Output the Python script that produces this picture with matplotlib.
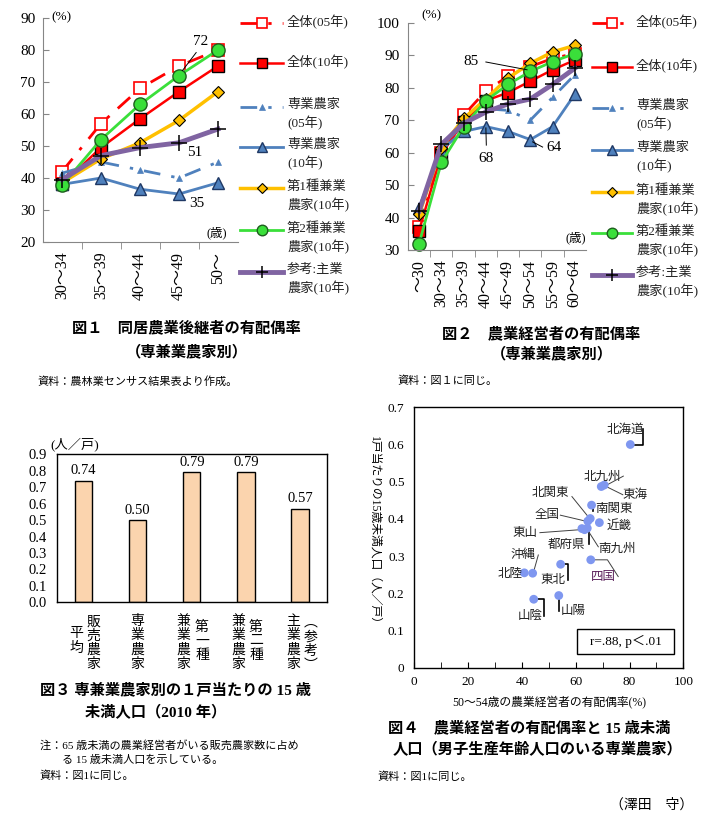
import matplotlib
matplotlib.use('Agg')
import matplotlib.pyplot as plt
from matplotlib.patches import Rectangle

plt.rcParams['font.family'] = ['Liberation Serif', 'Noto Sans CJK JP']
plt.rcParams['axes.unicode_minus'] = False

# ---------------- data ----------------
series_labels = ['全体(05年)', '全体(10年)', '専業農家\n(05年)', '専業農家\n(10年)',
                 '第1種兼業\n農家(10年)', '第2種兼業\n農家(10年)', '参考:主業\n農家(10年)']

f1_cats = ['30～34', '35～39', '40～44', '45～49', '50～']
f1_all05 = [42, 57, 68, 75, 80]
f1_all10 = [38, 49.5, 58.5, 67, 75]
f1_sen05 = [41.5, 45, 42.5, 40, 45]
f1_sen10 = [38, 40, 36.5, 35, 38.5]
f1_ken1 = [38.5, 46, 51, 58, 67]
f1_ken2 = [37.7, 52, 63, 72, 80]
f1_shu = [39.5, 47, 49.5, 51, 55.3]

f2_cats = ['～30', '30～34', '35～39', '40～44', '45～49', '50～54', '55～59', '60～64']
f2_all05 = [37, 60, 71.5, 79, 83.5, 86.5, 89, 90.5]
f2_all10 = [36, 59.5, 69.5, 76, 78.5, 82, 85.5, 88.5]
f2_sen05 = [43, 61, 67, 73.5, 73, 70, 77, 84]
f2_sen10 = [43, 61, 66.5, 68, 66.5, 64, 68, 78]
f2_ken1 = [41, 61.5, 70.5, 76.5, 83, 87.5, 91, 93]
f2_ken2 = [32, 57, 68, 76, 81, 85, 88, 90.5]
f2_shu = [42, 62.5, 69, 72.5, 75, 76.5, 81, 86]

f3_values = [0.74, 0.50, 0.79, 0.79, 0.57]

f4_regions = ['北海道', '北九州', '東海', '南関東', '北関東', '全国', '近畿', '東山',
              '都府県', '南九州', '四国', '東北', '沖縄', '北陸', '山陰', '山陽']
f4_x = [80.3, 69.5, 70.6, 65.9, 65.4, 64.5, 68.8, 62.3, 64.3, 63.3, 65.6, 54.4, 44.0, 40.9, 44.4, 53.7]
f4_y = [0.600, 0.487, 0.491, 0.437, 0.401, 0.394, 0.390, 0.374, 0.375, 0.371, 0.290, 0.278,
        0.254, 0.255, 0.184, 0.194]

# ---------------- styles ----------------
DD = (0, (6, 4, 1.2, 4))
styles = [
    dict(color='#FF0000', ls=DD, lw=2, marker='s', ms=9, mfc='white', mec='#FF0000', mew=1.2),
    dict(color='#FF0000', ls='-', lw=1.8, marker='s', ms=8.5, mfc='#FF0000', mec='black', mew=1),
    dict(color='#4F81BD', ls=DD, lw=2, marker='^', ms=5, mfc='#4F81BD', mec='#4F81BD', mew=0.5),
    dict(color='#4F81BD', ls='-', lw=2, marker='^', ms=9, mfc='#4F81BD', mec='#1F3864', mew=1),
    dict(color='#FFC000', ls='-', lw=2.5, marker='D', ms=6.5, mfc='#FFC000', mec='black', mew=0.8),
    dict(color='#3ADF3A', ls='-', lw=2, marker='o', ms=9.5, mfc='#3ADF3A', mec='#1E5E1E', mew=1),
    dict(color='#8064A2', ls='-', lw=3.5, marker='+', ms=11, mfc='black', mec='black', mew=1.1),
]

W, H = 705, 821
fig = plt.figure(figsize=(W / 100, H / 100), dpi=100)


def add_ax(l, t, r, b):
    return fig.add_axes([l / W, 1 - b / H, (r - l) / W, (b - t) / H])


GRAY = '#868686'


def line_panel(ax, cats, series, ylim, ypad):
    x = list(range(len(cats)))
    for vals, st in zip(series, styles):
        ax.plot(x, vals, clip_on=False, **st)
    ax.set_xlim(-0.5, len(cats) - 0.5)
    ax.set_ylim(*ylim)
    ax.set_yticks(range(ylim[0], ylim[1] + 1, 10))
    ax.set_xticks(x)
    ax.set_xticklabels(cats, rotation=90, fontsize=11.5)
    ax.set_xticks([i + 0.5 for i in range(len(cats) - 1)], minor=True)
    ax.tick_params(axis='x', which='major', length=0, pad=7)
    ax.tick_params(axis='x', which='minor', direction='out', length=5, color=GRAY)
    ax.tick_params(axis='y', direction='in', length=4, color=GRAY, labelsize=11, pad=ypad)
    for s in ['top', 'right']:
        ax.spines[s].set_visible(False)
    for s in ['left', 'bottom']:
        ax.spines[s].set_color(GRAY)
    ax.patch.set_alpha(0)


# ---------------- Figure 1 ----------------
ax1 = add_ax(42.5, 18, 237.5, 242)
line_panel(ax1, f1_cats, [f1_all05, f1_all10, f1_sen05, f1_sen10, f1_ken1, f1_ken2, f1_shu],
           (20, 90), 5)
ax1.text(-0.02, 90.3, '(%)', fontsize=9.5, ha='center', va='center')
ax1.text(3.97, 22.8, '(歳)', fontsize=9, ha='center', va='center')
ax1.text(3.55, 82.6, '72', fontsize=11, ha='center', va='center')
ax1.plot([3.44, 3.09], [79.2, 73.6], color='black', lw=0.7)
ax1.text(3.4, 48.0, '51', fontsize=11, ha='center', va='center')
ax1.text(3.45, 31.9, '35', fontsize=11, ha='center', va='center')

# ---------------- Figure 2 ----------------
ax2 = add_ax(408, 22.7, 586, 250)
line_panel(ax2, f2_cats, [f2_all05, f2_all10, f2_sen05, f2_sen10, f2_ken1, f2_ken2, f2_shu],
           (30, 100), 6)
ax2.text(0.55, 102.4, '(%)', fontsize=9.5, ha='center', va='center', clip_on=False)
ax2.text(7.05, 33.7, '(歳)', fontsize=9, ha='center', va='center')
ax2.text(2.35, 87.9, '85', fontsize=11, ha='center', va='center')
ax2.plot([3.0, 4.85], [87.9, 85.5], color='black', lw=0.7)
ax2.text(3.0, 58.2, '68', fontsize=11, ha='center', va='center')
ax2.plot([3.0, 3.02], [67.6, 62.3], color='black', lw=0.7)
ax2.text(6.05, 61.5, '64', fontsize=11, ha='center', va='center')
ax2.plot([5.1, 5.55], [63.3, 61.7], color='black', lw=0.7)

# ---------------- Figure 3 ----------------
ax3 = add_ax(56.7, 454.3, 327, 602.3)
xb = list(range(len(f3_values)))
bars = ax3.bar(xb, f3_values, width=0.32, color='#FBD4AE', edgecolor='black', linewidth=1)
for xi, v in zip(xb, f3_values):
    ax3.annotate(f'{v:.2f}', (xi, v), xytext=(0, 7), textcoords='offset points',
                 ha='center', va='center', fontsize=10.5)
ax3.set_xlim(-0.5, 4.5)
ax3.set_ylim(0, 0.9)
ax3.set_xticks([])
ax3.set_yticks([i / 10 for i in range(10)])
ax3.set_yticklabels([f'{i / 10:.1f}' for i in range(10)])
ax3.tick_params(axis='y', length=0, labelsize=10.5, pad=7)
for s in ax3.spines.values():
    s.set_color('black')
    s.set_linewidth(1)

# ---------------- Figure 4 ----------------
ax4 = add_ax(414.3, 407.3, 683.3, 667.7)
label_pos = {
    '北海道': (78.6, 0.64), '北九州': (69.9, 0.512), '東海': (82, 0.464), '南関東': (74.2, 0.427),
    '北関東': (50.4, 0.47), '全国': (49.2, 0.41), '近畿': (76.2, 0.381), '東山': (41.1, 0.363),
    '都府県': (56.6, 0.33), '南九州': (75.2, 0.319), '四国': (70.3, 0.243), '東北': (51.4, 0.236),
    '沖縄': (40.5, 0.303), '北陸': (35.6, 0.252), '山陰': (43, 0.139), '山陽': (59.1, 0.153),
}
leaders = [
    ([85.1, 85.1, 81.5], [0.641, 0.599, 0.599], 'k'),
    ([71.3, 77.7], [0.49, 0.515], 'g'),
    ([70.5, 77.5], [0.49, 0.465], 'g'),
    ([66.6, 66.6], [0.432, 0.42], 'k'),
    ([58.6, 65.3], [0.46, 0.40], 'g'),
    ([54.3, 64.3], [0.41, 0.393], 'g'),
    ([46.7, 63.5], [0.363, 0.372], 'g'),
    ([63.2, 64.8, 64.8], [0.37, 0.37, 0.333], 'k'),
    ([64.0, 68.4], [0.375, 0.325], 'g'),
    ([65.6, 71.8, 75.8], [0.29, 0.29, 0.245], 'g'),
    ([54.4, 57.2, 57.2], [0.278, 0.278, 0.236], 'k'),
    ([46.1, 44.2], [0.303, 0.254], 'g'),
    ([44.4, 48.2, 48.2], [0.184, 0.184, 0.139], 'k'),
    ([53.7, 53.7], [0.194, 0.153], 'k'),
]
for lx, ly, kind in leaders:
    if kind == 'k':
        ax4.plot(lx, ly, color='black', lw=1.2, zorder=1)
    else:
        ax4.plot(lx, ly, color='#404040', lw=0.7, zorder=1)
ax4.scatter(f4_x, f4_y, s=40, color='#7F97F0', edgecolors='none', zorder=3)
for name in f4_regions:
    px, py = label_pos[name]
    ax4.text(px, py, name, fontsize=9, ha='center', va='center',
             color='#5A1E5A' if name == '四国' else '#202020', zorder=4)
ax4.add_patch(Rectangle((60.3, 0.037), 36.4, 0.066, facecolor='white', edgecolor='black', lw=1, zorder=2))
ax4.text(78.5, 0.07, 'r=.88, p＜.01', fontsize=9.5, ha='center', va='center', zorder=4)
ax4.set_xlim(0, 100)
ax4.set_ylim(0, 0.7)
ax4.set_xticks(range(0, 101, 20))
ax4.set_xticks(range(0, 101, 10), minor=True)
ax4.tick_params(axis='x', which='both', direction='in', length=4, labelsize=9.5, pad=6)
ax4.set_yticks([i / 10 for i in range(8)])
ax4.set_yticklabels(['0'] + [f'{i / 10:.1f}' for i in range(1, 8)])
ax4.tick_params(axis='y', length=0, labelsize=9.5, pad=7)
for s in ax4.spines.values():
    s.set_color('black')
    s.set_linewidth(1)

# ---------------- overlay: legends, captions ----------------
ov = fig.add_axes([0, 0, 1, 1])
ov.set_xlim(0, W)
ov.set_ylim(H, 0)
ov.axis('off')
ov.patch.set_alpha(0)


def legend(x0, x1, xt, ys):
    xm = (x0 + x1) / 2
    for y, st, lab in zip(ys, styles, series_labels):
        s2 = dict(st)
        mk = {k: s2.pop(k) for k in ['marker', 'ms', 'mfc', 'mec', 'mew']}
        ov.plot([x0, x1], [y, y], **s2)
        ov.plot([xm], [y], ls='none', marker=mk['marker'], ms=mk['ms'] * 0.8, mfc=mk['mfc'],
                mec=mk['mec'], mew=mk['mew'])
        ov.text(xt, y - 8, lab, fontsize=9.5, ha='left', va='top', linespacing=1.45, color='#222222')


legend(240, 283, 287, [23, 63, 107, 147, 188, 230, 272])
legend(592, 632, 636, [23, 67, 108, 150, 192, 233, 275])

capkw = dict(fontsize=11, fontweight='bold', va='center')
ov.text(186, 328, '図１　同居農業後継者の有配偶率', ha='center', **capkw)
ov.text(187, 352, '（専兼業農家別）', ha='center', **capkw)
ov.text(38, 381, '資料：農林業センサス結果表より作成。', fontsize=8, va='center')
ov.text(541, 334, '図２　農業経営者の有配偶率', ha='center', **capkw)
ov.text(552, 354, '（専兼業農家別）', ha='center', **capkw)
ov.text(398, 381, '資料：図１に同じ。', fontsize=8, va='center')

# fig3 unit and vertical category labels
ov.text(75, 444, '(人／戸)', fontsize=9.5, ha='center', va='center')
columns = [('販売農家', 93, 622), ('平均', 76, 634), ('専業農家', 137, 622),
           ('第一種', 202, 627), ('兼業農家', 183, 622), ('第二種', 256, 627),
           ('兼業農家', 238, 622), ('︵参考︶', 311, 623), ('主業農家', 293, 622)]
for txt, cx, cy in columns:
    for k, ch in enumerate(txt):
        ov.text(cx, cy + k * 14, ch, fontsize=10, ha='center', va='center')

ov.text(40, 690, '図３ 専兼業農家別の１戸当たりの 15 歳', ha='left', **capkw)
ov.text(85, 713, '未満人口（2010 年）', ha='left', **capkw)
ov.text(40, 745, '注：65 歳未満の農業経営者がいる販売農家数に占め', fontsize=8, va='center')
ov.text(62, 760, 'る 15 歳未満人口を示している。', fontsize=8, va='center')
ov.text(40, 776, '資料：図1に同じ。', fontsize=8, va='center')

ov.text(374, 533, '1戸当たりの15歳未満人口（人／戸）', fontsize=8.5, rotation=-90, ha='center', va='center')
ov.text(549, 703, '50～54歳の農業経営者の有配偶率(%)', fontsize=8.5, ha='center', va='center')
ov.text(388, 728, '図４　農業経営者の有配偶率と 15 歳未満', ha='left', **capkw)
ov.text(393, 750, '人口（男子生産年齢人口のいる専業農家）', ha='left', **capkw)
ov.text(378, 777, '資料：図1に同じ。', fontsize=8, va='center')
ov.text(693, 805, '（澤田　守）', fontsize=10, ha='right', va='center')

fig.savefig('out.png', dpi=100)
